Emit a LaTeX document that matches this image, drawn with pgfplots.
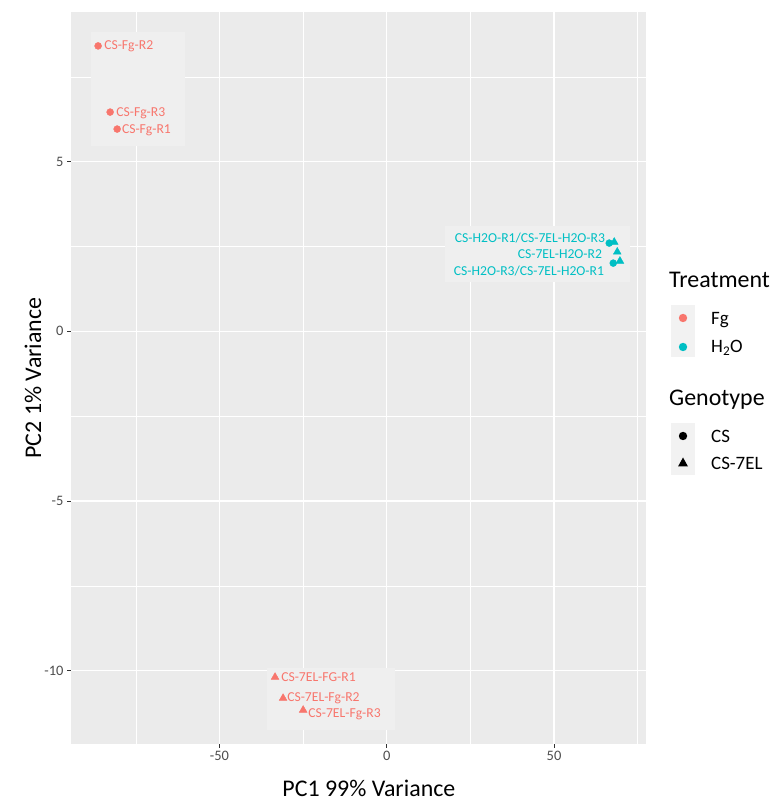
\documentclass[border=0pt]{standalone}
\usepackage{fontspec}
\setmainfont{Carlito}
\usepackage{pgfplots}
\pgfplotsset{compat=1.18}
\definecolor{panelbg}{HTML}{EBEBEB}
\definecolor{labelbg}{HTML}{EFEFEF}
\definecolor{keybg}{HTML}{F2F2F2}
\definecolor{fgred}{HTML}{F8766D}
\definecolor{hteal}{HTML}{00BFC4}
\definecolor{ticktext}{HTML}{4D4D4D}
\definecolor{tickline}{HTML}{333333}
\begin{document}
\begin{tikzpicture}[x=1bp,y=1bp]
\path[use as bounding box] (0,0) rectangle (773,804);
\begin{axis}[
  at={(71bp,60bp)}, anchor=south west,
  scale only axis, width=575bp, height=732bp,
  xmin=-94.4, xmax=77.5, ymin=-12.16, ymax=9.41,
  axis background/.style={fill=panelbg},
  axis line style={draw=none},
  xtick={-50,0,50}, ytick={-10,-5,0,5},
  minor xtick={-75,-25,25,75}, minor ytick={-12.5,-7.5,-2.5,2.5,7.5},
  grid=both,
  major grid style={white, line width=1.1bp},
  minor grid style={white, line width=0.55bp},
  tick align=outside, major tick length=4bp, minor tick length=0pt,
  tick style={tickline, line width=0.8bp},
  xtick pos=bottom, ytick pos=left,
  tick label style={font=\fontsize{14.5}{17}\selectfont, text=ticktext},
  /pgf/number format/assume math mode=true,
  xlabel={PC1 99\% Variance}, ylabel={PC2 1\% Variance},
  label style={font=\fontsize{24}{28}\selectfont},
  x label style={at={(axis description cs:0.518,-0.060)}, anchor=center},
  y label style={at={(axis description cs:-0.066,0.5)}, anchor=center, rotate=0},
  clip=false,
]
% label backgrounds
\fill[labelbg] (axis cs:-88.4,5.46) rectangle (axis cs:-60.3,8.82);
\fill[labelbg] (axis cs:17.4,1.45) rectangle (axis cs:72.8,3.10);
\fill[labelbg] (axis cs:-35.8,-11.75) rectangle (axis cs:2.5,-9.93);
% Fg, CS
\addplot[only marks, mark=*, mark size=3.5bp, fgred, mark options={draw=fgred, fill=fgred}]
  coordinates {(-86.3,8.41) (-82.7,6.46) (-80.6,5.96)};
% Fg, CS-7EL
\addplot[only marks, mark=triangle*, mark size=4.5bp, fgred, mark options={draw=fgred, fill=fgred}]
  coordinates {(-33.4,-10.19) (-31.0,-10.81) (-25.0,-11.16)};
% H2O, CS
\addplot[only marks, mark=*, mark size=3.5bp, hteal, mark options={draw=hteal, fill=hteal}]
  coordinates {(66.5,2.60) (67.7,2.01)};
% H2O, CS-7EL
\addplot[only marks, mark=triangle*, mark size=4.5bp, hteal, mark options={draw=hteal, fill=hteal}]
  coordinates {(68.0,2.63) (68.9,2.34) (69.7,2.07)};
% point labels
\begin{scope}[every node/.style={font=\fontsize{13.7}{16}\selectfont, inner sep=0pt}]
\node[anchor=west, text=fgred] at (axis cs:-84.5,8.41) {CS-Fg-R2};
\node[anchor=west, text=fgred] at (axis cs:-80.9,6.43) {CS-Fg-R3};
\node[anchor=west, text=fgred] at (axis cs:-79.2,5.93) {CS-Fg-R1};
\node[anchor=east, text=hteal] at (axis cs:65.3,2.75) {CS-H2O-R1/CS-7EL-H2O-R3};
\node[anchor=east, text=hteal] at (axis cs:64.4,2.28) {CS-7EL-H2O-R2};
\node[anchor=east, text=hteal] at (axis cs:65.0,1.78) {CS-H2O-R3/CS-7EL-H2O-R1};
\node[anchor=west, text=fgred] at (axis cs:-31.6,-10.19) {CS-7EL-FG-R1};
\node[anchor=west, text=fgred] at (axis cs:-29.8,-10.81) {CS-7EL-Fg-R2};
\node[anchor=west, text=fgred] at (axis cs:-23.5,-11.28) {CS-7EL-Fg-R3};
\end{scope}
\end{axis}
% legend
\begin{scope}[every node/.style={inner sep=0pt}]
\node[anchor=west, font=\fontsize{24}{28}\selectfont] at (669,524) {Treatment};
\fill[keybg] (671,473) rectangle (695,499);
\fill[keybg] (671,447) rectangle (695,473);
\fill[fgred] (683,486) circle (4.2);
\fill[hteal] (683,457) circle (4.2);
\node[anchor=west, font=\fontsize{19}{22}\selectfont] at (711,484) {Fg};
\node[anchor=west, font=\fontsize{19}{22}\selectfont] at (711,456) {H\textsubscript{2}O};
\node[anchor=west, font=\fontsize{24}{28}\selectfont] at (669,404) {Genotype};
\fill[keybg] (671,355) rectangle (695,381);
\fill[keybg] (671,329) rectangle (695,355);
\fill[black] (683,368) circle (4.2);
\fill[black] (683,346.5) -- (688,337.5) -- (678,337.5) -- cycle;
\node[anchor=west, font=\fontsize{19}{22}\selectfont] at (711,368) {CS};
\node[anchor=west, font=\fontsize{19}{22}\selectfont] at (711,341) {CS-7EL};
\end{scope}
\end{tikzpicture}
\end{document}
